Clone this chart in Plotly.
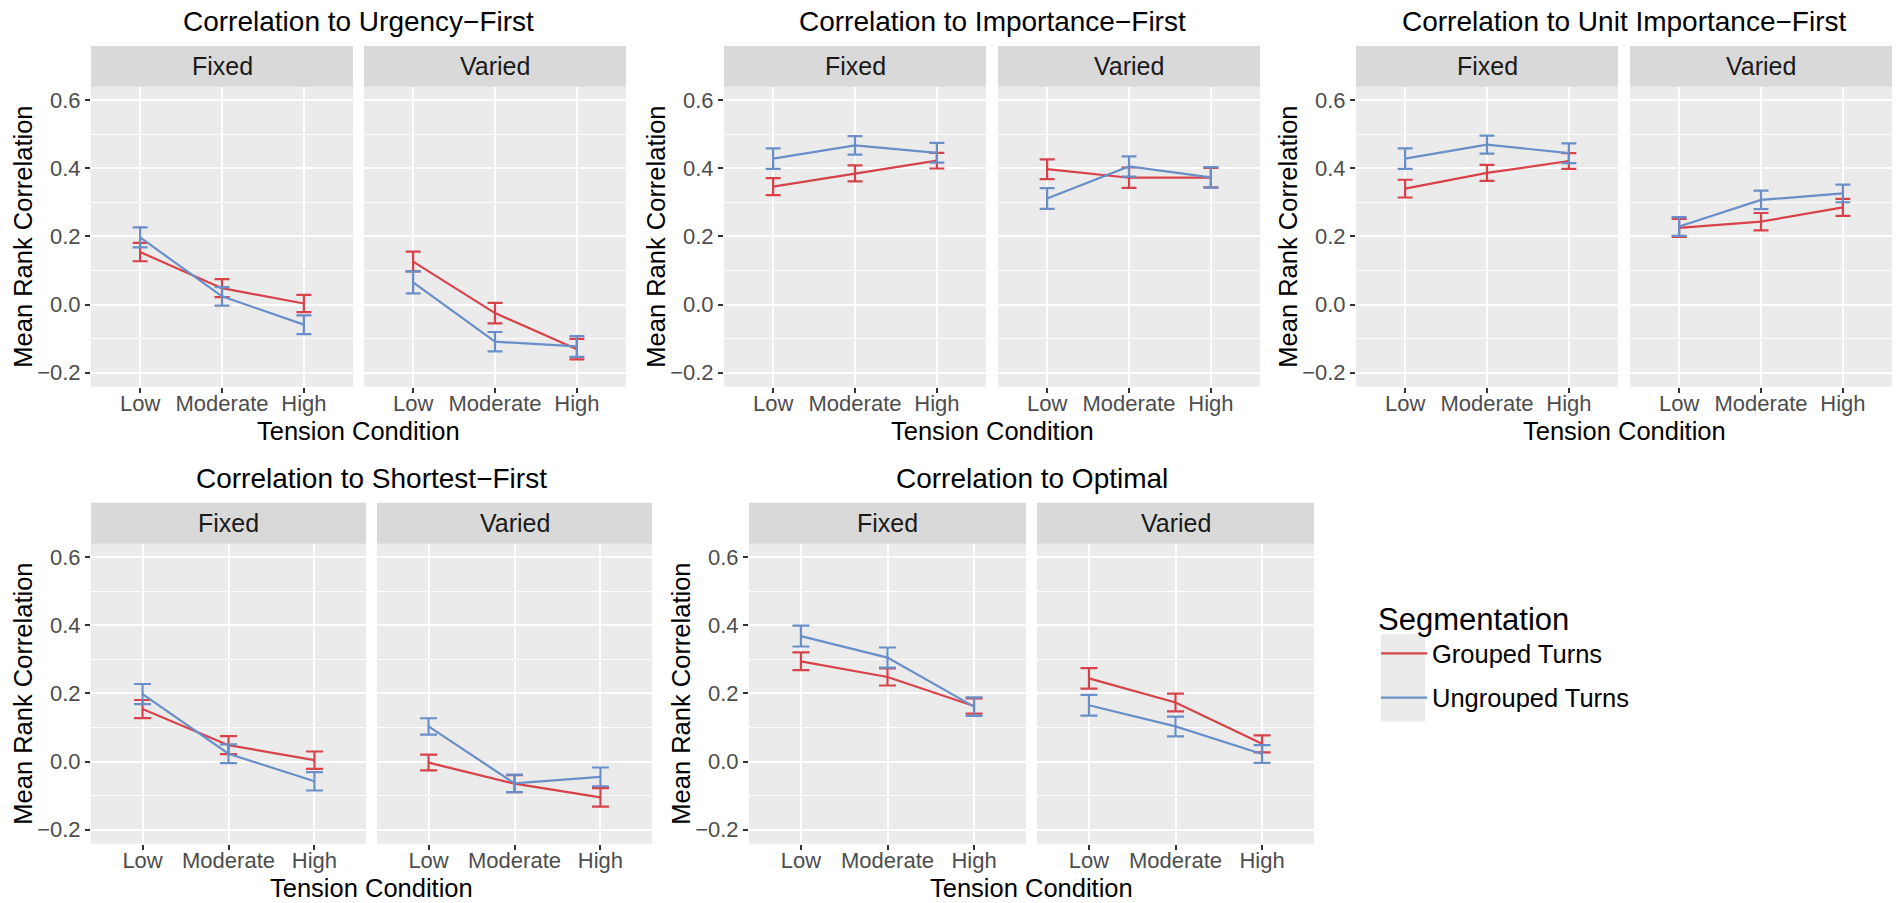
import plotly.graph_objects as go

W, H = 1899, 903

# ---------------- data ----------------
categories = ["Low", "Moderate", "High"]
facets = ["Fixed", "Varied"]
series_names = ["Grouped Turns", "Ungrouped Turns"]
panel_titles = [
    "Correlation to Urgency\u2212First",
    "Correlation to Importance\u2212First",
    "Correlation to Unit Importance\u2212First",
    "Correlation to Shortest\u2212First",
    "Correlation to Optimal",
]
y_tick_vals = [-0.2, 0.0, 0.2, 0.4, 0.6]
y_tick_text = ["\u22120.2", "0.0", "0.2", "0.4", "0.6"]

# order in each list: Fixed Low, Moderate, High, Varied Low, Moderate, High
urgency_grouped_mean = [0.154, 0.048, 0.003, 0.126, -0.025, -0.131]
urgency_grouped_se = [0.027, 0.0265, 0.0255, 0.029, 0.030, 0.030]
urgency_ungrouped_mean = [0.197, 0.024, -0.059, 0.065, -0.109, -0.123]
urgency_ungrouped_se = [0.0295, 0.027, 0.0275, 0.0325, 0.0285, 0.0305]

importance_grouped_mean = [0.346, 0.385, 0.422, 0.397, 0.372, 0.372]
importance_grouped_se = [0.025, 0.0235, 0.023, 0.029, 0.030, 0.0285]
importance_ungrouped_mean = [0.428, 0.467, 0.445, 0.311, 0.405, 0.373]
importance_ungrouped_se = [0.030, 0.027, 0.029, 0.0305, 0.0295, 0.030]

unit_grouped_mean = [0.340, 0.386, 0.421, 0.225, 0.243, 0.285]
unit_grouped_se = [0.026, 0.0235, 0.023, 0.0265, 0.0255, 0.025]
unit_ungrouped_mean = [0.428, 0.469, 0.444, 0.229, 0.307, 0.326]
unit_ungrouped_se = [0.030, 0.0265, 0.029, 0.0275, 0.027, 0.026]

shortest_grouped_mean = [0.154, 0.048, 0.004, -0.003, -0.065, -0.105]
shortest_grouped_se = [0.0265, 0.0265, 0.0255, 0.023, 0.025, 0.027]
shortest_ungrouped_mean = [0.198, 0.023, -0.058, 0.103, -0.064, -0.045]
shortest_ungrouped_se = [0.0295, 0.0275, 0.027, 0.024, 0.0255, 0.0275]

optimal_grouped_mean = [0.294, 0.248, 0.163, 0.244, 0.173, 0.052]
optimal_grouped_se = [0.026, 0.025, 0.0225, 0.030, 0.026, 0.025]
optimal_ungrouped_mean = [0.368, 0.305, 0.161, 0.165, 0.103, 0.022]
optimal_ungrouped_se = [0.0305, 0.0295, 0.027, 0.0305, 0.029, 0.026]

panel_data = [
    ((urgency_grouped_mean, urgency_grouped_se), (urgency_ungrouped_mean, urgency_ungrouped_se)),
    ((importance_grouped_mean, importance_grouped_se), (importance_ungrouped_mean, importance_ungrouped_se)),
    ((unit_grouped_mean, unit_grouped_se), (unit_ungrouped_mean, unit_ungrouped_se)),
    ((shortest_grouped_mean, shortest_grouped_se), (shortest_ungrouped_mean, shortest_ungrouped_se)),
    ((optimal_grouped_mean, optimal_grouped_se), (optimal_ungrouped_mean, optimal_ungrouped_se)),
]

# ---------------- layout geometry (pixels) ----------------
FONT = "Liberation Sans, Arial, Helvetica, sans-serif"
colors = ["#D8424A", "#6A8FC8"]
# (fixed x0, fixed x1, varied x0, varied x1, row)
panel_boxes = [
    (91, 353, 364, 626, 0),
    (724, 986, 998, 1260, 0),
    (1356, 1618, 1630, 1892, 0),
    (91, 366, 377, 652, 1),
    (749, 1026, 1037, 1314, 1),
]
rows = [
    dict(strip_top=46, plot_top=86.7, plot_bot=386.7, title_y=21, xtitle_y=431),
    dict(strip_top=502.7, plot_top=543.7, plot_bot=843.7, title_y=478, xtitle_y=888),
]
cap_w = [7.5, 8.5]

fig = go.Figure()
layout = {}
shapes = []
annotations = []


def px_x(v):
    return v / W


def px_y(v):
    return 1 - v / H


for p, (fx0, fx1, vx0, vx1, r) in enumerate(panel_boxes):
    row = rows[r]
    boxes = [(fx0, fx1), (vx0, vx1)]
    for f, (x0, x1) in enumerate(boxes):
        k = 2 * p + f + 1
        xname = "xaxis" if k == 1 else f"xaxis{k}"
        yname = "yaxis" if k == 1 else f"yaxis{k}"
        xref = "x" if k == 1 else f"x{k}"
        yref = "y" if k == 1 else f"y{k}"
        layout[xname] = dict(
            domain=[px_x(x0), px_x(x1)], anchor=yref, type="category",
            categoryorder="array", categoryarray=categories,
            range=[-0.6, 2.6], showgrid=True, gridcolor="white", gridwidth=2.2,
            ticks="outside", ticklen=5, tickwidth=2, tickcolor="#333333",
            ticklabelstandoff=-8,
            tickfont=dict(family=FONT, size=22, color="#4D4D4D"),
            showline=False, zeroline=False, fixedrange=True,
        )
        layout[yname] = dict(
            domain=[px_y(row["plot_bot"]), px_y(row["plot_top"])], anchor=xref,
            range=[-0.241, 0.639], tickmode="array", tickvals=y_tick_vals,
            ticktext=y_tick_text, showgrid=True, gridcolor="white", gridwidth=2.2,
            zeroline=False, showline=False, fixedrange=True,
            minor=dict(tickmode="array", tickvals=[-0.1, 0.1, 0.3, 0.5],
                       showgrid=True, gridcolor="white", gridwidth=1.1, ticks=""),
            ticks="outside" if f == 0 else "", ticklen=5, tickwidth=2,
            tickcolor="#333333", showticklabels=(f == 0),
            tickfont=dict(family=FONT, size=22, color="#4D4D4D"),
        )
        # strip
        shapes.append(dict(type="rect", xref="paper", yref="paper",
                           x0=px_x(x0), x1=px_x(x1),
                           y0=px_y(row["plot_top"]), y1=px_y(row["strip_top"]),
                           fillcolor="#D9D9D9", line=dict(width=0), layer="below"))
        annotations.append(dict(text=facets[f], xref="paper", yref="paper",
                                x=px_x((x0 + x1) / 2), y=px_y((row["plot_top"] + row["strip_top"]) / 2),
                                xanchor="center", yanchor="middle", showarrow=False,
                                font=dict(family=FONT, size=25, color="#1A1A1A")))
        for s in range(2):
            mean, se = panel_data[p][s]
            fig.add_trace(go.Scatter(
                x=categories, y=mean[3 * f:3 * f + 3], mode="lines",
                name=series_names[s], legendgroup=series_names[s],
                showlegend=(k == 1),
                line=dict(color=colors[s], width=2.2),
                error_y=dict(type="data", array=se[3 * f:3 * f + 3], visible=True,
                             color=colors[s], thickness=2.2, width=cap_w[r]),
                xaxis=xref, yaxis=yref,
            ))
    # panel title
    annotations.append(dict(text=panel_titles[p], xref="paper", yref="paper",
                            x=px_x((fx0 + vx1) / 2), y=px_y(row["title_y"]),
                            xanchor="center", yanchor="middle", showarrow=False,
                            font=dict(family=FONT, size=28, color="black")))
    # x axis title
    annotations.append(dict(text="Tension Condition", xref="paper", yref="paper",
                            x=px_x((fx0 + vx1) / 2), y=px_y(row["xtitle_y"]),
                            xanchor="center", yanchor="middle", showarrow=False,
                            font=dict(family=FONT, size=25.5, color="black")))
    # y axis title
    annotations.append(dict(text="Mean Rank Correlation", xref="paper", yref="paper",
                            x=px_x(fx0 - 68), y=px_y((row["plot_top"] + row["plot_bot"]) / 2),
                            xanchor="center", yanchor="middle", showarrow=False, textangle=-90,
                            font=dict(family=FONT, size=25.5, color="black")))

# legend key background
shapes.append(dict(type="rect", xref="paper", yref="paper",
                   x0=px_x(1381), x1=px_x(1425), y0=px_y(721.7), y1=px_y(634),
                   fillcolor="#EBEBEB", line=dict(width=0), layer="below"))

fig.update_layout(
    width=W, height=H,
    margin=dict(l=0, r=0, t=0, b=0),
    paper_bgcolor="white", plot_bgcolor="#EBEBEB",
    font=dict(family=FONT, color="black"),
    shapes=shapes, annotations=annotations,
    showlegend=True,
    legend=dict(x=px_x(1376), y=px_y(590), xanchor="left", yanchor="top",
                bgcolor="rgba(0,0,0,0)", tracegroupgap=8, itemwidth=46,
                title=dict(text="Segmentation", font=dict(family=FONT, size=31, color="black")),
                font=dict(family=FONT, size=25.5, color="black")),
    **layout,
)

fig.write_html("out.html")
